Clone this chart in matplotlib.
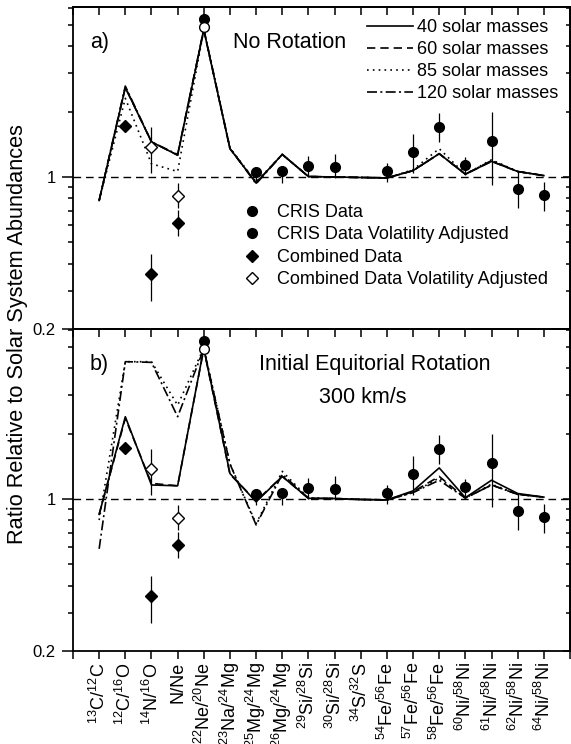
import numpy as np
import matplotlib
matplotlib.use('Agg')
import matplotlib.pyplot as plt
from matplotlib.ticker import LogLocator, FixedLocator, NullFormatter, FixedFormatter
from matplotlib.lines import Line2D

plt.rcParams['font.family'] = ['Liberation Sans', 'DejaVu Sans']
plt.rcParams['mathtext.fontset'] = 'custom'
plt.rcParams['mathtext.rm'] = 'Liberation Sans'
plt.rcParams['mathtext.it'] = 'Liberation Sans:italic'
plt.rcParams['mathtext.bf'] = 'Liberation Sans:bold'
plt.rcParams['mathtext.default'] = 'regular'

# ---------------- data ----------------
categories = [r'$^{13}$C/$^{12}$C', r'$^{12}$C/$^{16}$O', r'$^{14}$N/$^{16}$O', 'N/Ne',
              r'$^{22}$Ne/$^{20}$Ne', r'$^{23}$Na/$^{24}$Mg', r'$^{25}$Mg/$^{24}$Mg',
              r'$^{26}$Mg/$^{24}$Mg', r'$^{29}$Si/$^{28}$Si', r'$^{30}$Si/$^{28}$Si',
              r'$^{34}$S/$^{32}$S', r'$^{54}$Fe/$^{56}$Fe', r'$^{57}$Fe/$^{56}$Fe',
              r'$^{58}$Fe/$^{56}$Fe', r'$^{60}$Ni/$^{58}$Ni', r'$^{61}$Ni/$^{58}$Ni',
              r'$^{62}$Ni/$^{58}$Ni', r'$^{64}$Ni/$^{58}$Ni']

# CRIS data (1-based category index)
cris_idx = [5, 7, 8, 9, 10, 12, 13, 14, 15, 16, 17, 18]
cris_val = [5.33, 1.05, 1.065, 1.127, 1.11, 1.06, 1.30, 1.69, 1.135, 1.46, 0.884, 0.829]
cris_lo = [5.33, 0.94, 0.94, 1.00, 0.99, 0.95, 1.04, 1.45, 1.02, 0.92, 0.72, 0.70]
cris_hi = [5.33, 1.10, 1.12, 1.25, 1.27, 1.16, 1.58, 1.97, 1.24, 1.99, 1.07, 0.95]

# CRIS volatility adjusted
crisv_idx = [5]
crisv_val = [4.91]

# Combined data
comb_idx = [2, 3, 4]
comb_val = [1.72, 0.357, 0.612]
comb_lo = [1.72, 0.27, 0.535]
comb_hi = [1.72, 0.443, 0.705]

# Combined data volatility adjusted
combv_idx = [3, 4]
combv_val = [1.37, 0.818]
combv_lo = [1.04, 0.72]
combv_hi = [1.70, 0.94]

# Models, panel a (no rotation)
m40_a = [0.78, 2.58, 1.45, 1.26, 4.75, 1.35, 0.94, 1.27, 1.005, 1.0, 0.995, 0.99, 1.07, 1.28, 1.03, 1.18, 1.06, 1.015]
m60_a = [0.78, 2.58, 1.45, 1.26, 4.75, 1.35, 0.94, 1.27, 1.005, 1.0, 0.995, 0.99, 1.07, 1.28, 1.03, 1.18, 1.06, 1.015]
m85_a = [0.78, 2.30, 1.15, 1.06, 4.75, 1.36, 0.95, 1.27, 1.005, 1.0, 0.995, 0.99, 1.08, 1.35, 1.03, 1.20, 1.06, 1.015]
m120_a = [0.78, 2.62, 1.45, 1.27, 4.80, 1.36, 0.93, 1.27, 1.005, 1.0, 0.995, 0.99, 1.07, 1.28, 1.03, 1.19, 1.06, 1.015]

# Models, panel b (initial equatorial rotation 300 km/s)
m40_b = [0.85, 2.39, 1.16, 1.15, 4.93, 1.31, 0.97, 1.27, 1.007, 1.005, 0.995, 0.99, 1.09, 1.39, 1.014, 1.22, 1.06, 1.02]
m60_b = [0.85, 2.35, 1.18, 1.15, 4.90, 1.30, 0.98, 1.27, 1.007, 1.005, 0.995, 0.99, 1.08, 1.27, 1.010, 1.16, 1.05, 1.02]
m85_b = [0.80, 4.28, 4.28, 2.70, 4.95, 1.45, 0.77, 1.34, 1.010, 1.005, 0.995, 0.99, 1.07, 1.25, 1.010, 1.17, 1.05, 1.02]
m120_b = [0.59, 4.28, 4.25, 2.39, 4.90, 1.45, 0.76, 1.30, 1.007, 1.005, 0.995, 0.99, 1.07, 1.22, 1.010, 1.16, 1.05, 1.02]

model_labels = ['40 solar masses', '60 solar masses', '85 solar masses', '120 solar masses']
data_labels = ['CRIS Data', 'CRIS Data Volatility Adjusted', 'Combined Data',
               'Combined Data Volatility Adjusted']

# ---------------- figure ----------------
fig = plt.figure(figsize=(5.71, 7.44), dpi=100)
L, R = 73 / 571, 570 / 571
axa = fig.add_axes([L, 1 - 329 / 744, R - L, 322 / 744])
axb = fig.add_axes([L, 1 - 651 / 744, R - L, 322 / 744])

x = np.arange(1, len(categories) + 1)
styles = [dict(ls='-'), dict(ls=(0, (5, 3))), dict(ls=(0, (1, 2.5))), dict(ls=(0, (6, 2, 1.2, 2)))]
lw_model = 1.2


def draw_panel(ax, models):
    ax.set_yscale('log')
    ax.set_xlim(0, 19)
    ax.set_ylim(0.2, 6.05)
    ax.axhline(1.0, color='black', lw=1.0, ls=(0, (5.5, 3.5)), zorder=1)
    handles = []
    for m, st, lab in zip(models, styles, model_labels):
        h, = ax.plot(x, m, color='black', lw=lw_model, label=lab, zorder=2, **st)
        handles.append(h)
    cv = np.array(cris_val); cl = np.array(cris_lo); ch = np.array(cris_hi)
    ax.errorbar(cris_idx, cv, yerr=[cv - cl, ch - cv], fmt='o', color='black',
                ms=7, elinewidth=0.9, capsize=0, zorder=4)
    ax.plot(crisv_idx, crisv_val, 'o', mfc='white', mec='black', ms=7, mew=1.0, zorder=5)
    bv = np.array(comb_val); bl = np.array(comb_lo); bh = np.array(comb_hi)
    ax.errorbar(comb_idx, bv, yerr=[bv - bl, bh - bv], fmt='D', color='black',
                ms=6.3, elinewidth=0.9, capsize=0, zorder=4)
    vv = np.array(combv_val); vl = np.array(combv_lo); vh = np.array(combv_hi)
    ax.errorbar(combv_idx, vv, yerr=[vv - vl, vh - vv], fmt='D', mfc='white', mec='black',
                ecolor='black', ms=6.3, mew=1.0, elinewidth=0.9, capsize=0, zorder=5)

    for sp in ax.spines.values():
        sp.set_linewidth(1.3)
    ax.yaxis.set_major_locator(FixedLocator([0.2, 1.0]))
    ax.yaxis.set_major_formatter(FixedFormatter(['0.2', '1']))
    ax.yaxis.set_minor_locator(LogLocator(base=10, subs=np.arange(2, 10), numticks=20))
    ax.yaxis.set_minor_formatter(NullFormatter())
    ax.tick_params(axis='y', which='major', direction='out', length=8, width=1.1,
                   labelsize=12, pad=4.5, right=False)
    ax.tick_params(axis='y', which='minor', direction='out', length=3.6, width=1.1, right=False)
    sec = ax.secondary_yaxis('right')
    sec.yaxis.set_major_locator(FixedLocator([0.2, 1.0]))
    sec.yaxis.set_minor_locator(LogLocator(base=10, subs=np.arange(2, 10), numticks=20))
    sec.yaxis.set_major_formatter(NullFormatter())
    sec.yaxis.set_minor_formatter(NullFormatter())
    sec.tick_params(axis='y', which='major', direction='in', length=5, width=1.1)
    sec.tick_params(axis='y', which='minor', direction='in', length=3, width=1.1)
    sec.spines['right'].set_linewidth(1.3)
    sx = ax.secondary_xaxis('top')
    sx.xaxis.set_major_locator(FixedLocator(np.arange(0, 20)))
    sx.xaxis.set_major_formatter(NullFormatter())
    sx.tick_params(axis='x', direction='in', length=5.5, width=1.1)
    sx.spines['top'].set_linewidth(1.3)
    return handles


handles = draw_panel(axa, [m40_a, m60_a, m85_a, m120_a])
draw_panel(axb, [m40_b, m60_b, m85_b, m120_b])

axa.xaxis.set_major_locator(FixedLocator(np.arange(0, 20)))
axa.tick_params(axis='x', bottom=False, labelbottom=False)

axb.xaxis.set_major_locator(FixedLocator(np.arange(0, 20)))
axb.xaxis.set_major_formatter(FixedFormatter([''] + categories + ['']))
axb.tick_params(axis='x', direction='out', length=6, width=1.1, labelsize=13, pad=2)
for lab in axb.get_xticklabels():
    lab.set_rotation(90)
    lab.set_va('top')
    lab.set_ha('center')

# legends in panel a
leg1 = axa.legend(handles=handles, loc='upper left', bbox_to_anchor=(0.5915, 0.962),
                  frameon=False, fontsize=13, handlelength=2.55, handletextpad=0.22,
                  labelspacing=0.28, borderpad=0, borderaxespad=0)
axa.add_artist(leg1)
dh = [Line2D([], [], ls='none', marker='o', color='black', ms=7),
      Line2D([], [], ls='none', marker='o', color='black', ms=7),
      Line2D([], [], ls='none', marker='D', color='black', ms=6.3),
      Line2D([], [], ls='none', marker='D', mfc='white', mec='black', ms=6.3)]
axa.legend(handles=dh, labels=data_labels, loc='upper left', bbox_to_anchor=(0.342, 0.388),
           frameon=False, fontsize=13, handlelength=1.0, handletextpad=0.89,
           labelspacing=0.3, borderpad=0, borderaxespad=0)

tfs = 15.5
axa.text(0.034, 0.89, 'a)', transform=axa.transAxes, fontsize=tfs, va='center', ha='left')
axa.text(0.322, 0.89, 'No Rotation', transform=axa.transAxes, fontsize=tfs, va='center', ha='left')
axb.text(0.034, 0.89, 'b)', transform=axb.transAxes, fontsize=tfs, va='center', ha='left')
axb.text(0.6076, 0.89, 'Initial Equitorial Rotation', transform=axb.transAxes, fontsize=tfs,
         va='center', ha='center')
axb.text(0.5835, 0.786, '300 km/s', transform=axb.transAxes, fontsize=tfs, va='center', ha='center')

fig.text(0.031, 0.5504, 'Ratio Relative to Solar System Abundances', rotation=90,
         va='center', ha='center', fontsize=15.7)

fig.savefig('out.png', dpi=100)
